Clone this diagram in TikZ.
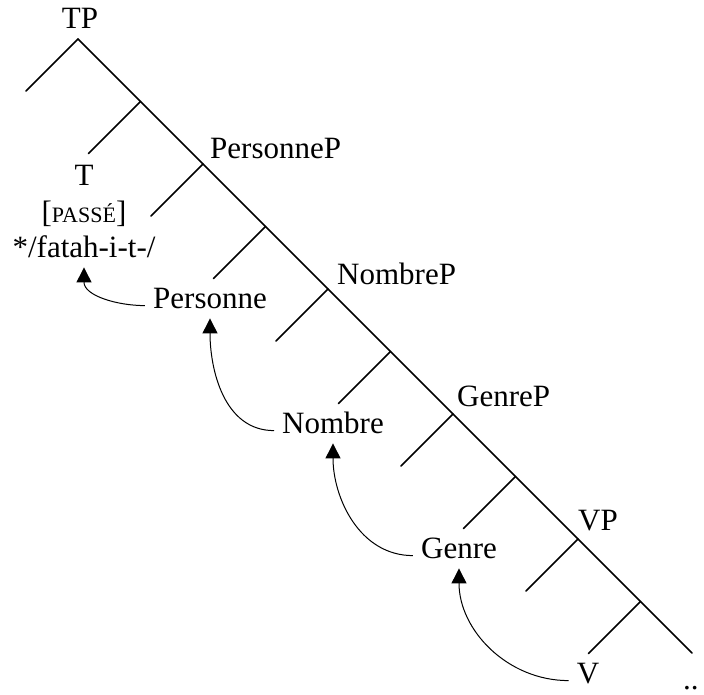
\documentclass[tikz,border=0pt]{standalone}
\usepackage{fontspec}
\setmainfont{Liberation Serif}
\usetikzlibrary{arrows.meta}

\tikzset{
  branch/.style={line width=1.5pt, line cap=round},
  lbl/.style={font=\fontsize{31}{37}\selectfont, inner sep=0pt},
  word/.style={font=\fontsize{31}{37}\selectfont, inner xsep=8pt, inner ysep=8pt,
               text height=0.7em, text depth=0.22em},
  move/.style={line width=1pt, -{Triangle[width=15pt,length=15pt]}},
}

\begin{document}
\begin{tikzpicture}[x=1pt, y=-1pt]
  \useasboundingbox (0,0) rectangle (704,694);

  % spine of the tree: apex and the nine branching points
  \coordinate (b0) at (78,39);
  \foreach \k in {1,...,9}
    \coordinate (b\k) at ({78+62.5*\k},{39+62.5*\k});
  \coordinate (spineend) at (692,653);

  \draw[branch] (b0) -- (spineend);
  \foreach \k in {0,...,9}
    \draw[branch] (b\k) -- ++(-52,52);

  % projection labels
  \node[lbl, anchor=base] (tp) at (80,28) {TP};
  \node[lbl, anchor=base west] (persP) at (210,158) {PersonneP};
  \node[lbl, anchor=base west] (nombP) at (337,284) {NombreP};
  \node[lbl, anchor=base west] (genrP) at (457,406) {GenreP};
  \node[lbl, anchor=base west] (vp) at (578,530) {VP};
  \node[lbl, anchor=base west] (dots) at (683,689) {..};

  % heads
  \node[lbl, anchor=base] (t) at (84,185) {T};
  \node[lbl, anchor=base] (passe) at (84,222) {[{\fontsize{22}{26}\selectfont PASSÉ}]};
  \node[word, anchor=base] (fatah) at (84,257) {*/fatah-i-t-/};
  \node[word, anchor=base] (pers) at (210,308) {Personne};
  \node[word, anchor=base] (nomb) at (333,433) {Nombre};
  \node[word, anchor=base] (genr) at (459,558) {Genre};
  \node[word, anchor=base] (v) at (588,683) {V};

  % head movement
  \draw[move] (pers.west) to[out=180, in=-90] (fatah.south);
  \draw[move] (nomb.west) to[out=180, in=-90] (pers.south);
  \draw[move] (genr.west) to[out=180, in=-90] (nomb.south);
  \draw[move] (v.west) to[out=180, in=-90] (genr.south);
\end{tikzpicture}
\end{document}
